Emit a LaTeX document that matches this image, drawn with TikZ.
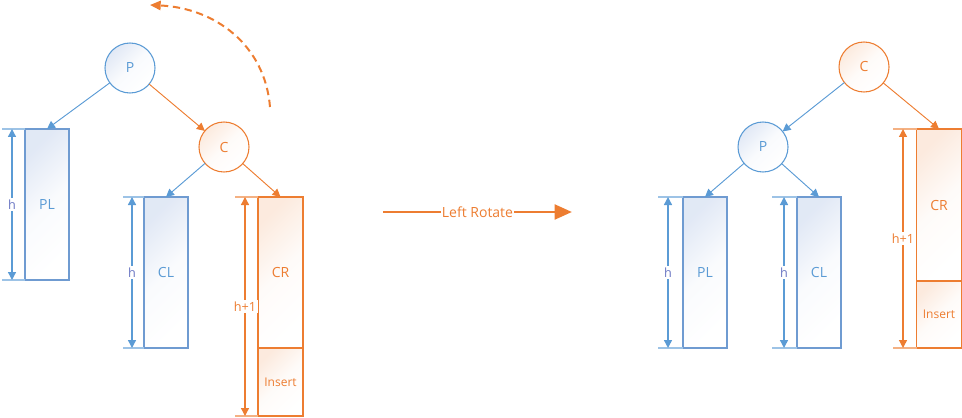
\documentclass[tikz,border=0pt]{standalone}
\usepackage{fontspec}
\setmainfont{Open Sans}
\usetikzlibrary{arrows.meta}
\definecolor{bl}{HTML}{5B9BD5}
\definecolor{bld}{HTML}{6F9BD1}
\definecolor{blx}{HTML}{9DC3E6}
\definecolor{blt}{HTML}{DAE3F3}
\definecolor{bh}{HTML}{6C78C4}
\definecolor{orr}{HTML}{ED7D31}
\definecolor{orx}{HTML}{F4B183}
\definecolor{ort}{HTML}{FBE5D6}
\begin{document}
\begin{tikzpicture}[x=0.75pt,y=-0.75pt,
  every node/.style={inner sep=0pt,outer sep=0pt,font=\fontsize{10.5}{12}\selectfont},
  tip/.style={-{Triangle[length=6pt,width=6pt]}},
  dimtip/.style={{Triangle[length=6pt,width=6pt]}-{Triangle[length=6pt,width=6pt]}},
  bshade/.style={top color=blt!80,bottom color=white,middle color=blt!15,shading angle=45},
  oshade/.style={top color=ort!80,bottom color=white,middle color=ort!15,shading angle=45},
  bcirc/.style={circle,draw=bl,line width=0.8pt,minimum size=37.5pt,bshade,text=bl},
  ocirc/.style={circle,draw=orr,line width=0.8pt,minimum size=37.5pt,oshade,text=orr},
  bbox/.style={rectangle,draw=bld,line width=1pt,minimum width=33pt,minimum height=113.25pt,bshade,text=bl},
  obox/.style={rectangle,draw=orr,line width=1pt,minimum width=33.75pt,oshade,text=orr},
  blink/.style={draw=bl,line width=0.7pt,tip},
  olink/.style={draw=orr,line width=0.7pt,tip},
  bdim/.style={draw=bl,line width=1pt,dimtip},
  odim/.style={draw=orr,line width=1pt,dimtip},
  bext/.style={draw=blx,line width=1pt},
  oext/.style={draw=orx,line width=1pt},
  bdl/.style={fill=white,text=bh,inner sep=1.5pt,font=\fontsize{9.5}{11}\selectfont},
  odl/.style={fill=white,text=orr,inner sep=1.5pt,font=\fontsize{9.5}{11}\selectfont},
  insf/.style={font=\fontsize{9}{11}\selectfont},
]
\useasboundingbox (0,0) rectangle (962,417);

% ---------------- left tree ----------------
\node[bcirc] (P1) at (130,68) {P};
\node[ocirc] (C1) at (224,147) {C};
\node[bbox] (PL1) at (47,204.5) {PL};
\node[bbox] (CL1) at (166,272.5) {CL};
\node[obox,minimum height=113.25pt] (CR1) at (280.5,272.5) {CR};
\node[obox,minimum height=51pt,insf] (IN1) at (280.5,382) {Insert};

\draw[blink] (P1) -- (PL1.north);
\draw[olink] (P1) -- (C1);
\draw[blink] (C1) -- (CL1.north);
\draw[olink] (C1) -- (CR1.north);

% dimension PL1
\coordinate (e1a) at (2,129); \coordinate (e1b) at (2,280);
\coordinate (d1a) at (12,129); \coordinate (d1b) at (12,280);
\draw[bext] (e1a) -- (PL1.north west);
\draw[bext] (e1b) -- (PL1.south west);
\draw[bdim] (d1a) -- (d1b) node[midway,bdl] {h};

% dimension CL1
\coordinate (e2a) at (123,197); \coordinate (e2b) at (123,348);
\coordinate (d2a) at (132,197); \coordinate (d2b) at (132,348);
\draw[bext] (e2a) -- (CL1.north west);
\draw[bext] (e2b) -- (CL1.south west);
\draw[bdim] (d2a) -- (d2b) node[midway,bdl] {h};

% dimension CR1 + Insert
\coordinate (e3a) at (235,197); \coordinate (e3b) at (235,416);
\coordinate (d3a) at (245,197); \coordinate (d3b) at (245,416);
\draw[oext] (e3a) -- (CR1.north west);
\draw[oext] (e3b) -- (IN1.south west);
\draw[odim] (d3a) -- (d3b) node[midway,odl] {h+1};

% rotation hint
\coordinate (r1) at (270,107); \coordinate (r2) at (150,5);
\draw[orr,line width=1.5pt,dash pattern=on 5.5pt off 3.5pt,-{Triangle[length=8pt,width=7pt]}]
  (r1) .. controls (265,45) and (215,8) .. (r2);

% ---------------- middle arrow ----------------
\coordinate (ma) at (383,212); \coordinate (mb) at (572,212);
\draw[orr,line width=2.2pt,-{Triangle[length=13pt,width=11pt]}] (ma) -- (mb)
  node[midway,fill=white,text=orr,inner sep=1pt] {Left Rotate};

% ---------------- right tree ----------------
\node[ocirc] (C2) at (864,67) {C};
\node[bcirc] (P2) at (763,147) {P};
\node[bbox] (PL2) at (705,272.5) {PL};
\node[bbox] (CL2) at (819,272.5) {CL};
\node[obox,minimum height=114pt] (CR2) at (939,205) {CR};
\node[obox,minimum height=50.25pt,insf] (IN2) at (939,314.5) {Insert};

\draw[blink] (C2) -- (P2);
\draw[olink] (C2) -- (CR2.north);
\draw[blink] (P2) -- (PL2.north);
\draw[blink] (P2) -- (CL2.north);

% dimension PL2
\coordinate (e4a) at (658,197); \coordinate (e4b) at (658,348);
\coordinate (d4a) at (668,197); \coordinate (d4b) at (668,348);
\draw[bext] (e4a) -- (PL2.north west);
\draw[bext] (e4b) -- (PL2.south west);
\draw[bdim] (d4a) -- (d4b) node[midway,bdl] {h};

% dimension CL2
\coordinate (e5a) at (772,197); \coordinate (e5b) at (772,348);
\coordinate (d5a) at (784,197); \coordinate (d5b) at (784,348);
\draw[bext] (e5a) -- (CL2.north west);
\draw[bext] (e5b) -- (CL2.south west);
\draw[bdim] (d5a) -- (d5b) node[midway,bdl] {h};

% dimension CR2 + Insert
\coordinate (e6a) at (893,129); \coordinate (e6b) at (893,348);
\coordinate (d6a) at (903,129); \coordinate (d6b) at (903,348);
\draw[oext] (e6a) -- (CR2.north west);
\draw[oext] (e6b) -- (IN2.south west);
\draw[odim] (d6a) -- (d6b) node[midway,odl] {h+1};
\end{tikzpicture}
\end{document}
